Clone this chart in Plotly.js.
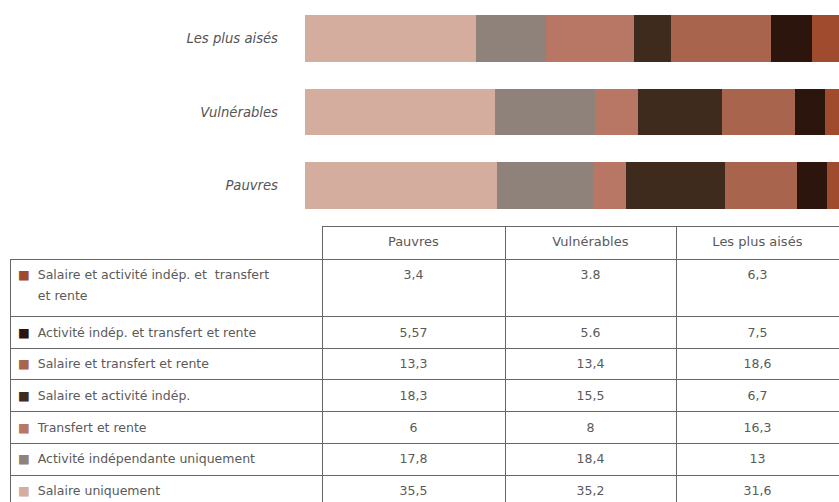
<!DOCTYPE html>
<html>
<head>
<meta charset="utf-8">
<script src="https://cdn.plot.ly/plotly-3.0.1.min.js"></script>
<style>
html,body{margin:0;padding:0;background:#fff;}
#chart{width:839px;height:502px;}
/* lower the body-cell text a little inside its row (the scanned table sets text low) */
#chart .cell-text > tspan{baseline-shift:-4px;}
#chart #header .cell-text > tspan{baseline-shift:0px;}
</style>
</head>
<body>
<div id="chart"></div>
<script>
// Groups (bottom to top on the bar chart)
const groups = ['Pauvres', 'Vulnérables', 'Les plus aisés'];

// Categories in stacking order (left to right)
const categories = [
  'Salaire uniquement',
  'Activité indépendante uniquement',
  'Transfert et rente',
  'Salaire et activité indép.',
  'Salaire et transfert et rente',
  'Activité indép. et transfert et rente',
  'Salaire et activité indép. et  transfert et rente'
];

// Values per category: [Pauvres, Vulnérables, Les plus aisés]
const salaireUniquement     = [35.5, 35.2, 31.6];
const activiteUniquement    = [17.8, 18.4, 13];
const transfertRente        = [6, 8, 16.3];
const salaireActivite       = [18.3, 15.5, 6.7];
const salaireTransfert      = [13.3, 13.4, 18.6];
const activiteTransfert     = [5.57, 5.6, 7.5];
const salaireActivTransfert = [3.4, 3.8, 6.3];

// Table labels (as printed)
const tableHeader = ['', 'Pauvres', 'Vulnérables', 'Les plus aisés'];
const tableRowLabels = [
  'Salaire et activité indép. et  transfert',
  'Activité indép. et transfert et rente',
  'Salaire et transfert et rente',
  'Salaire et activité indép.',
  'Transfert et rente',
  'Activité indépendante uniquement',
  'Salaire uniquement'
];
const tablePauvres     = ['3,4', '5,57', '13,3', '18,3', '6', '17,8', '35,5'];
const tableVulnerables = ['3.8', '5.6', '13,4', '15,5', '8', '18,4', '35,2'];
const tableAises       = ['6,3', '7,5', '18,6', '6,7', '16,3', '13', '31,6'];

const colors = ['#d5ad9e', '#8e827a', '#b77764', '#3f2a1e', '#a9644e', '#2b150c', '#a04a2e'];
const seriesValues = [salaireUniquement, activiteUniquement, transfertRente, salaireActivite,
                      salaireTransfert, activiteTransfert, salaireActivTransfert];

const traces = categories.map((name, i) => ({
  type: 'bar',
  orientation: 'h',
  name: name,
  y: groups,
  x: seriesValues[i],
  marker: {color: colors[i], line: {width: 0}},
  width: 0.64,
  hoverinfo: 'x+name'
}));

// Table: row colors (top to bottom) map to series in reverse stacking order
const rowColors = [colors[6], colors[5], colors[4], colors[3], colors[2], colors[1], colors[0]];
const nb = s => s.replace(/ /g, '\u00a0');
const low = (s, px) => '<span style="baseline-shift:-' + px + 'px">' + s + '</span>';
// a trailing <br> keeps Plotly from re-wrapping the cell text
const labelCells = tableRowLabels.map((t, i) => {
  const sq = '<span style="color:' + rowColors[i] + '">■</span>' + '\u00a0\u00a0';
  if (i === 0) {
    return low(sq + nb(t), 7) + '<br>' +
           low('\u00a0\u00a0\u00a0\u00a0\u00a0' + nb('et rente'), 12) + '<br>' +
           '<span style="font-size:15px">\u00a0</span>';
  }
  return sq + nb(t) + '<br>';
});
const valCells = arr => arr.map(v => v + '<br>');

const cellFont = {family: 'DejaVu Sans, sans-serif', size: 12.5, color: '#5a5a5a'};
const headFont = {family: 'DejaVu Sans, sans-serif', size: 13, color: '#5a5a5a'};

traces.push({
  type: 'table',
  domain: {x: [10/839, 1], y: [0, 1 - 226/502]},
  columnwidth: [312, 183, 171, 163],
  header: {
    values: tableHeader.map(v => v + '<br>'),
    align: 'center',
    height: 33,
    line: {color: ['rgba(0,0,0,0)', '#666', '#666', '#666'], width: 1},
    fill: {color: 'rgba(0,0,0,0)'},
    font: headFont
  },
  cells: {
    values: [labelCells, valCells(tablePauvres), valCells(tableVulnerables), valCells(tableAises)],
    align: ['left', 'center', 'center', 'center'],
    height: 31.7,
    line: {color: '#666', width: 1},
    fill: {color: 'rgba(0,0,0,0)'},
    font: cellFont
  }
});

const layout = {
  width: 839, height: 502,
  margin: {l: 0, r: 0, t: 0, b: 0},
  paper_bgcolor: '#fff', plot_bgcolor: '#fff',
  barmode: 'stack',
  showlegend: false,
  xaxis: {domain: [305/839, 1], range: [0, 98.7], visible: false, fixedrange: true},
  yaxis: {
    domain: [1 - 222/502, 1 - 2/502],
    showgrid: false, zeroline: false, showline: false, ticks: '',
    ticklabelstandoff: 26,
    tickfont: {family: 'DejaVu Sans, sans-serif', size: 13.2, color: '#555', style: 'italic'},
    fixedrange: true
  }
};

Plotly.newPlot('chart', traces, layout, {displayModeBar: false, staticPlot: true});
</script>
</body>
</html>
